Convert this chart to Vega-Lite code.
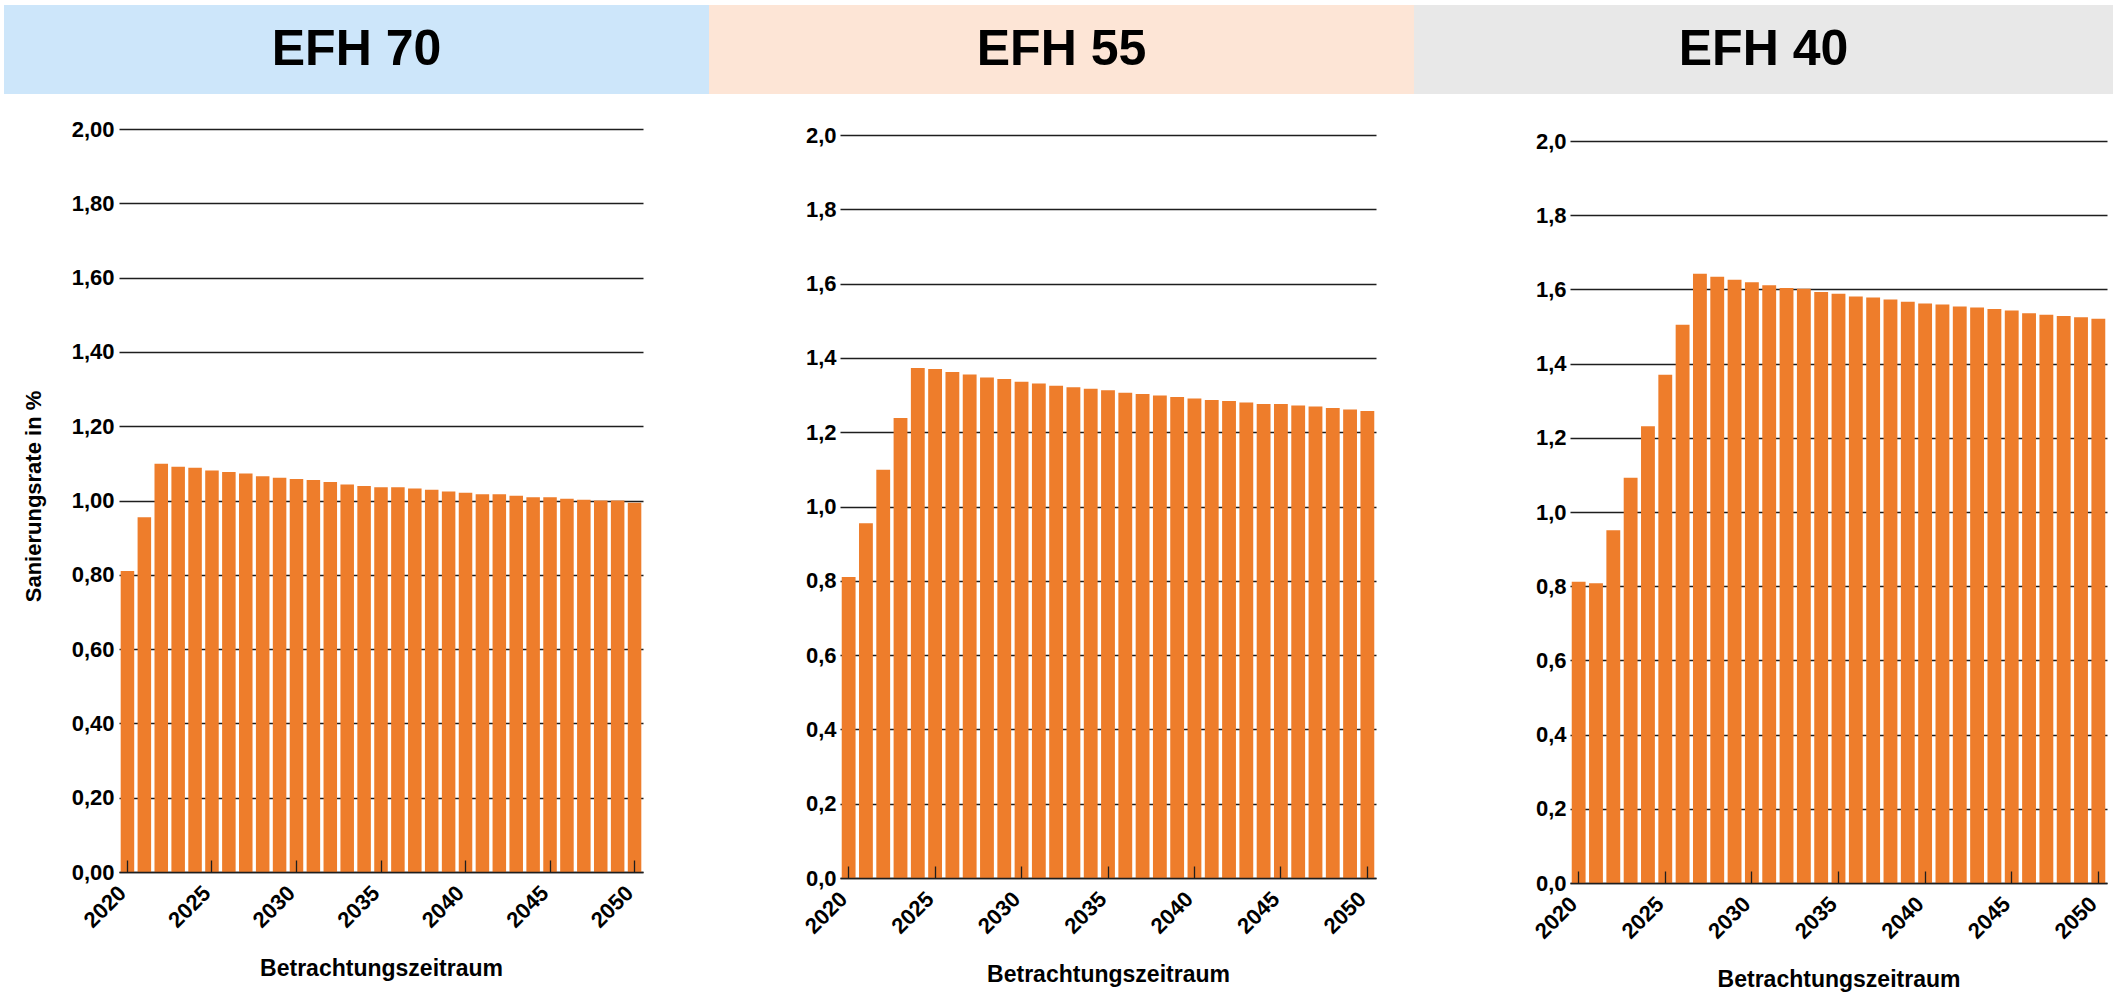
{
  "$schema": "https://vega.github.io/schema/vega-lite/v6.json",
  "padding": {"left": 4, "top": 5, "right": 0, "bottom": 0},
  "autosize": {"type": "pad"},
  "spacing": 0,
  "config": {
    "font": "Liberation Sans",
    "view": {"stroke": null},
    "concat": {"spacing": 0},
    "axis": {
      "labelFont": "Liberation Sans",
      "labelFontWeight": "bold",
      "labelFontSize": 22,
      "labelColor": "#000000",
      "titleFont": "Liberation Sans",
      "titleFontWeight": "bold",
      "titleColor": "#000000",
      "gridColor": "#1e1e1e",
      "gridWidth": 1.3,
      "gridOpacity": 1,
      "domainColor": "#1e1e1e",
      "domainWidth": 1.5,
      "tickColor": "#1e1e1e",
      "tickWidth": 1.3
    }
  },
  "hconcat": [
    {
      "spacing": 24,
      "vconcat": [
        {
          "width": 705, "height": 89,
          "view": {"fill": "#cde6fa", "stroke": null},
          "data": {"values": [{"panel": "EFH 70"}]},
          "mark": {"type": "text", "fontSize": 50, "fontWeight": "bold", "font": "Liberation Sans", "color": "#000000"},
          "encoding": {"text": {"field": "panel"}}
        },
        {
          "spacing": 0,
          "hconcat": [
            {"width": 1, "height": 1, "data": {"values": []}, "mark": {"type": "point", "opacity": 0}, "encoding": {}},
            {
              "width": 524, "height": 743,
              "data": {"values": [
                {"year": 2020, "rate": 0.81}, {"year": 2021, "rate": 0.955}, {"year": 2022, "rate": 1.099}, {"year": 2023, "rate": 1.091},
                {"year": 2024, "rate": 1.088}, {"year": 2025, "rate": 1.081}, {"year": 2026, "rate": 1.077}, {"year": 2027, "rate": 1.073},
                {"year": 2028, "rate": 1.065}, {"year": 2029, "rate": 1.061}, {"year": 2030, "rate": 1.058}, {"year": 2031, "rate": 1.055},
                {"year": 2032, "rate": 1.05}, {"year": 2033, "rate": 1.043}, {"year": 2034, "rate": 1.039}, {"year": 2035, "rate": 1.036},
                {"year": 2036, "rate": 1.036}, {"year": 2037, "rate": 1.032}, {"year": 2038, "rate": 1.029}, {"year": 2039, "rate": 1.024},
                {"year": 2040, "rate": 1.021}, {"year": 2041, "rate": 1.017}, {"year": 2042, "rate": 1.017}, {"year": 2043, "rate": 1.013},
                {"year": 2044, "rate": 1.009}, {"year": 2045, "rate": 1.009}, {"year": 2046, "rate": 1.005}, {"year": 2047, "rate": 1.002},
                {"year": 2048, "rate": 1.0}, {"year": 2049, "rate": 1.0}, {"year": 2050, "rate": 0.994}
              ]},
              "mark": {"type": "bar", "color": "#ee7d2b"},
              "encoding": {
                "x": {
                  "field": "year", "type": "ordinal",
                  "scale": {"paddingInner": 0.2, "paddingOuter": 0.1},
                  "axis": {
                    "values": [2020, 2025, 2030, 2035, 2040, 2045, 2050],
                    "labelAngle": -45, "labelAlign": "right", "labelBaseline": "alphabetic",
                    "labelPadding": 34, "tickSize": -12, "zindex": 1,
                    "title": "Betrachtungszeitraum", "titleFontSize": 23, "titlePadding": 26
                  }
                },
                "y": {
                  "field": "rate", "type": "quantitative",
                  "scale": {"domain": [0, 2]},
                  "axis": {
                    "values": [0, 0.2, 0.4, 0.6, 0.8, 1.0, 1.2, 1.4, 1.6, 1.8, 2.0],
                    "labelExpr": "replace(format(datum.value, '.2f'), '.', ',')",
                    "ticks": false, "domain": false, "labelPadding": 5,
                    "minExtent": 114,
                    "title": "Sanierungsrate in %", "titleFontSize": 22,
                    "titleX": -86, "titleY": 367, "titleBaseline": "middle"
                  }
                }
              }
            }
          ]
        }
      ]
    },
    {
      "spacing": 30,
      "vconcat": [
        {
          "width": 705, "height": 89,
          "view": {"fill": "#fde5d6", "stroke": null},
          "data": {"values": [{"panel": "EFH 55"}]},
          "mark": {"type": "text", "fontSize": 50, "fontWeight": "bold", "font": "Liberation Sans", "color": "#000000"},
          "encoding": {"text": {"field": "panel"}}
        },
        {
          "spacing": 0,
          "hconcat": [
            {"width": 1, "height": 1, "data": {"values": []}, "mark": {"type": "point", "opacity": 0}, "encoding": {}},
            {
              "width": 536, "height": 743,
              "data": {"values": [
                {"year": 2020, "rate": 0.81}, {"year": 2021, "rate": 0.955}, {"year": 2022, "rate": 1.099}, {"year": 2023, "rate": 1.238},
                {"year": 2024, "rate": 1.373}, {"year": 2025, "rate": 1.37}, {"year": 2026, "rate": 1.362}, {"year": 2027, "rate": 1.355},
                {"year": 2028, "rate": 1.347}, {"year": 2029, "rate": 1.343}, {"year": 2030, "rate": 1.336}, {"year": 2031, "rate": 1.331},
                {"year": 2032, "rate": 1.325}, {"year": 2033, "rate": 1.321}, {"year": 2034, "rate": 1.317}, {"year": 2035, "rate": 1.313},
                {"year": 2036, "rate": 1.306}, {"year": 2037, "rate": 1.303}, {"year": 2038, "rate": 1.299}, {"year": 2039, "rate": 1.295},
                {"year": 2040, "rate": 1.291}, {"year": 2041, "rate": 1.287}, {"year": 2042, "rate": 1.284}, {"year": 2043, "rate": 1.28},
                {"year": 2044, "rate": 1.276}, {"year": 2045, "rate": 1.276}, {"year": 2046, "rate": 1.272}, {"year": 2047, "rate": 1.269},
                {"year": 2048, "rate": 1.265}, {"year": 2049, "rate": 1.261}, {"year": 2050, "rate": 1.257}
              ]},
              "mark": {"type": "bar", "color": "#ee7d2b"},
              "encoding": {
                "x": {
                  "field": "year", "type": "ordinal",
                  "scale": {"paddingInner": 0.2, "paddingOuter": 0.1},
                  "axis": {
                    "values": [2020, 2025, 2030, 2035, 2040, 2045, 2050],
                    "labelAngle": -45, "labelAlign": "right", "labelBaseline": "alphabetic",
                    "labelPadding": 34, "tickSize": -12, "zindex": 1,
                    "title": "Betrachtungszeitraum", "titleFontSize": 23, "titlePadding": 26
                  }
                },
                "y": {
                  "field": "rate", "type": "quantitative",
                  "scale": {"domain": [0, 2]},
                  "axis": {
                    "values": [0, 0.2, 0.4, 0.6, 0.8, 1.0, 1.2, 1.4, 1.6, 1.8, 2.0],
                    "labelExpr": "replace(format(datum.value, '.1f'), '.', ',')",
                    "ticks": false, "domain": false, "labelPadding": 4,
                    "minExtent": 130,
                    "title": null
                  }
                }
              }
            }
          ]
        }
      ]
    },
    {
      "spacing": 36,
      "vconcat": [
        {
          "width": 699, "height": 89,
          "view": {"fill": "#e8e8e8", "stroke": null},
          "data": {"values": [{"panel": "EFH 40"}]},
          "mark": {"type": "text", "fontSize": 50, "fontWeight": "bold", "font": "Liberation Sans", "color": "#000000"},
          "encoding": {"text": {"field": "panel"}}
        },
        {
          "spacing": 0,
          "hconcat": [
            {"width": 1, "height": 1, "data": {"values": []}, "mark": {"type": "point", "opacity": 0}, "encoding": {}},
            {
              "width": 537, "height": 742,
              "data": {"values": [
                {"year": 2020, "rate": 0.812}, {"year": 2021, "rate": 0.808}, {"year": 2022, "rate": 0.951}, {"year": 2023, "rate": 1.092},
                {"year": 2024, "rate": 1.231}, {"year": 2025, "rate": 1.37}, {"year": 2026, "rate": 1.505}, {"year": 2027, "rate": 1.642},
                {"year": 2028, "rate": 1.634}, {"year": 2029, "rate": 1.626}, {"year": 2030, "rate": 1.619}, {"year": 2031, "rate": 1.611},
                {"year": 2032, "rate": 1.604}, {"year": 2033, "rate": 1.602}, {"year": 2034, "rate": 1.593}, {"year": 2035, "rate": 1.588},
                {"year": 2036, "rate": 1.581}, {"year": 2037, "rate": 1.578}, {"year": 2038, "rate": 1.573}, {"year": 2039, "rate": 1.567},
                {"year": 2040, "rate": 1.562}, {"year": 2041, "rate": 1.559}, {"year": 2042, "rate": 1.554}, {"year": 2043, "rate": 1.551},
                {"year": 2044, "rate": 1.547}, {"year": 2045, "rate": 1.543}, {"year": 2046, "rate": 1.536}, {"year": 2047, "rate": 1.532},
                {"year": 2048, "rate": 1.528}, {"year": 2049, "rate": 1.525}, {"year": 2050, "rate": 1.521}
              ]},
              "mark": {"type": "bar", "color": "#ee7d2b"},
              "encoding": {
                "x": {
                  "field": "year", "type": "ordinal",
                  "scale": {"paddingInner": 0.2, "paddingOuter": 0.1},
                  "axis": {
                    "values": [2020, 2025, 2030, 2035, 2040, 2045, 2050],
                    "labelAngle": -45, "labelAlign": "right", "labelBaseline": "alphabetic",
                    "labelPadding": 34, "tickSize": -12, "zindex": 1,
                    "title": "Betrachtungszeitraum", "titleFontSize": 23, "titlePadding": 26
                  }
                },
                "y": {
                  "field": "rate", "type": "quantitative",
                  "scale": {"domain": [0, 2]},
                  "axis": {
                    "values": [0, 0.2, 0.4, 0.6, 0.8, 1.0, 1.2, 1.4, 1.6, 1.8, 2.0],
                    "labelExpr": "replace(format(datum.value, '.1f'), '.', ',')",
                    "ticks": false, "domain": false, "labelPadding": 4,
                    "minExtent": 155,
                    "title": null
                  }
                }
              }
            }
          ]
        }
      ]
    }
  ]
}
